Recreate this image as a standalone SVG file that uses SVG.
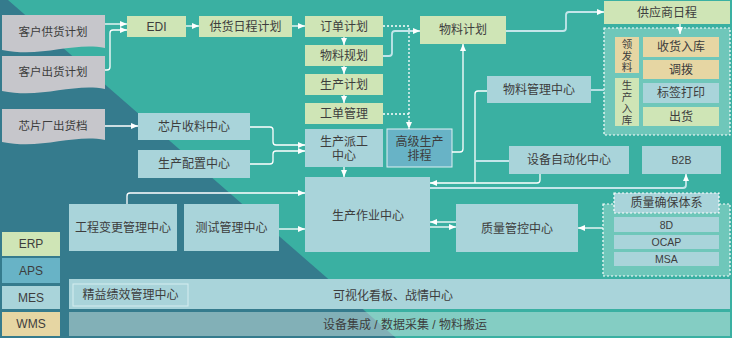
<svg xmlns="http://www.w3.org/2000/svg" width="732" height="338" viewBox="0 0 732 338">
<defs>
<style>
text{font-family:"Liberation Sans","Noto Sans CJK SC",sans-serif;font-size:12px;fill:#3d3d3d;text-anchor:middle;dominant-baseline:central}
.g{fill:#cfe5b6}
.b{fill:#a9d4da}
.t{fill:#e6d6a3}
.m{fill:#68b3c6}
.doc{fill:#c6c6cb}
.c path{fill:none;stroke:#fff;stroke-width:1.3}
.c path.lt{stroke:#c4e6ea;stroke-width:1.8}
.c path.d{stroke-dasharray:2 2}
.dash{fill:#6fc7ba;stroke:#fff;stroke-width:1.2;stroke-dasharray:2 2}
.sm{font-size:10.5px}
.v{font-size:10.5px}
.dt{font-size:11.5px}
</style>
<marker id="a" viewBox="0 0 7 6" refX="7" refY="3" markerWidth="7" markerHeight="6" markerUnits="userSpaceOnUse" orient="auto"><path d="M0,0 L7,3 L0,6 Z" fill="#fff"/></marker>
</defs>
<rect width="732" height="338" fill="#3ab0a2"/>
<polygon points="0,0 8,0 396,338 0,338" fill="#357b8d"/>

<g id="n-khgh"><path class="doc" d="M2,15 H105 V48 C72,42 42,58 2,50 Z"/><text class="dt" x="53" y="32">客户供货计划</text></g>
<g id="n-khch"><path class="doc" d="M2,56 H105 V89 C72,83 42,99 2,91 Z"/><text class="dt" x="53" y="72">客户出货计划</text></g>
<g id="n-xpcc"><path class="doc" d="M2,109 H105 V140 C72,134 42,150 2,142 Z"/><text class="dt" x="53" y="126">芯片厂出货档</text></g>

<g id="n-edi"><rect class="g" x="127" y="16" width="59" height="21"/><text x="156.5" y="26.5">EDI</text></g>
<g id="n-ghrc"><rect class="g" x="199" y="16" width="93" height="21"/><text x="245.5" y="26.5">供货日程计划</text></g>
<g id="n-ddjh"><rect class="g" x="305" y="16" width="78" height="21"/><text x="344" y="26.5">订单计划</text></g>
<g id="n-wlgh"><rect class="g" x="305" y="45" width="78" height="21"/><text x="344" y="55.5">物料规划</text></g>
<g id="n-scjh"><rect class="g" x="305" y="74" width="78" height="21"/><text x="344" y="84.5">生产计划</text></g>
<g id="n-gdgl"><rect class="g" x="305" y="103" width="78" height="21"/><text x="344" y="113.5">工单管理</text></g>
<g id="n-wljh"><rect class="g" x="420" y="16" width="86" height="28"/><text x="463" y="30">物料计划</text></g>
<g id="n-gysrc"><rect class="g" x="604" y="1" width="126" height="23"/><text x="667" y="13">供应商日程</text></g>

<g id="n-wms-box">
<rect class="dash" x="604" y="28" width="126" height="107"/>
<rect class="t" x="615" y="37" width="24" height="36"/>
<text class="v" x="627" y="43.5">领</text><text class="v" x="627" y="55.5">发</text><text class="v" x="627" y="67">料</text>
<rect class="g" x="615" y="78" width="24" height="48"/>
<text class="v" x="627" y="84.5">生</text><text class="v" x="627" y="96.5">产</text><text class="v" x="627" y="108">入</text><text class="v" x="627" y="119.5">库</text>
<rect class="t" x="643" y="37" width="76" height="20"/><text x="681" y="47">收货入库</text>
<rect class="t" x="643" y="60" width="76" height="19"/><text x="681" y="69.5">调拨</text>
<rect class="b" x="643" y="83" width="76" height="20"/><text x="681" y="93">标签打印</text>
<rect class="g" x="643" y="107" width="76" height="19"/><text x="681" y="116.5">出货</text>
</g>

<g id="n-wlglzx"><rect class="b" x="487" y="76" width="104" height="27"/><text x="539" y="89.5">物料管理中心</text></g>
<g id="n-xpsl"><rect class="b" x="138" y="113" width="112" height="27"/><text x="194" y="126.5">芯片收料中心</text></g>
<g id="n-scpz"><rect class="b" x="138" y="150" width="112" height="28"/><text x="194" y="164">生产配置中心</text></g>
<g id="n-scpg"><rect class="b" x="305" y="129" width="78" height="38"/><text x="344" y="142">生产派工</text><text x="344" y="156">中心</text></g>
<g id="n-gjpc"><rect class="m" x="387" y="129" width="65" height="38" stroke="#dff0f3" stroke-width="1"/><text x="419.5" y="142">高级生产</text><text x="419.5" y="156">排程</text></g>
<g id="n-scxzx"><rect class="b" x="305" y="177" width="125" height="75"/><text x="368" y="216">生产作业中心</text></g>
<g id="n-sbzdh"><rect class="b" x="509" y="146" width="120" height="28"/><text x="569" y="160">设备自动化中心</text></g>
<g id="n-b2b"><rect class="b" x="642" y="146" width="79" height="28"/><text class="sm" x="681.5" y="160">B2B</text></g>
<g id="n-zlgk"><rect class="b" x="456" y="204" width="122" height="48"/><text x="517" y="229">质量管控中心</text></g>
<g id="n-zlbz">
<rect class="dash" x="603" y="204" width="127" height="72"/>
<rect x="614" y="193" width="105" height="20" fill="#a9d4da" stroke="#fff" stroke-width="1.2" stroke-dasharray="2 2"/>
<text x="666.5" y="203">质量确保体系</text>
<rect class="b" x="614" y="217" width="105" height="15"/><text class="sm" x="666.5" y="224.5">8D</text>
<rect class="b" x="614" y="235" width="105" height="14"/><text class="sm" x="666.5" y="242">OCAP</text>
<rect class="b" x="614" y="252" width="105" height="14"/><text class="sm" x="666.5" y="259">MSA</text>
</g>
<g id="n-gcbg"><rect class="b" x="69" y="204" width="108" height="47"/><text x="123" y="228">工程变更管理中心</text></g>
<g id="n-csgl"><rect class="b" x="184" y="204" width="95" height="47"/><text x="231.5" y="228">测试管理中心</text></g>

<g id="n-erp"><rect class="g" x="2" y="232" width="58" height="24"/><text x="31" y="244">ERP</text></g>
<g id="n-aps"><rect class="m" x="2" y="258" width="58" height="25"/><text x="31" y="270.5">APS</text></g>
<g id="n-mes"><rect class="b" x="2" y="286" width="58" height="23"/><text x="31" y="297.5">MES</text></g>
<g id="n-wms"><rect class="t" x="2" y="312" width="58" height="24"/><text x="31" y="324">WMS</text></g>

<g id="n-kshkb"><rect class="b" x="69" y="279" width="661" height="30"/><rect x="73" y="284" width="115" height="22" fill="#a9d4da" stroke="#d6edf0" stroke-width="1"/><text x="130.5" y="295">精益绩效管理中心</text><text x="393" y="296">可视化看板、战情中心</text></g>
<g id="n-sbjc"><rect x="69" y="312" width="661" height="24" fill="#e0f2ec" fill-opacity="0.45"/><text x="405" y="324.5">设备集成 / 数据采集 / 物料搬运</text></g>

<g id="connectors" class="c">
<path d="M105,24 H127" marker-end="url(#a)"/>
<path d="M105,70 H107 Q110,70 110,67 V33 Q110,30 113,30 H127" marker-end="url(#a)"/>
<path d="M186,26 H199" marker-end="url(#a)"/>
<path d="M292,26 H305" marker-end="url(#a)"/>
<path d="M344,37 V45" marker-end="url(#a)"/>
<path d="M344,66 V74" marker-end="url(#a)"/>
<path d="M344,95 V103" marker-end="url(#a)"/>
<path class="lt" d="M383,56 H389 Q392,56 392,53 V34 Q392,31 395,31 H420" marker-end="url(#a)"/>
<path class="d" d="M383,26 H409 V129" marker-end="url(#a)"/>
<path class="d" d="M383,114 H409"/>
<path class="lt" d="M506,31 H563 Q566,31 566,28 V15 Q566,12 569,12 H604" marker-end="url(#a)"/>
<path d="M680,24 V34" marker-end="url(#a)"/>
<path d="M452,152 H460 Q463,152 463,149 V44" marker-end="url(#a)"/>
<path d="M487,91 H478 Q475,91 475,94 V183"/>
<path d="M540,174 V180 Q540,183 537,183 H430" marker-end="url(#a)"/>
<path class="lt" d="M509,161 H475"/>
<path class="lt" d="M430,188 H683 Q686,188 686,185 V174" marker-end="url(#a)"/>
<path class="lt" d="M591,90 H604"/>
<path d="M250,127 H270 Q273,127 273,130 V142 Q273,145 276,145 H305" marker-end="url(#a)"/>
<path d="M250,164 H270 Q273,164 273,161 V154 Q273,151 276,151 H305" marker-end="url(#a)"/>
<path d="M105,126 H138" marker-end="url(#a)"/>
<path d="M344,167 V177" marker-end="url(#a)"/>
<path d="M127,204 V196 Q127,193 130,193 H305" marker-end="url(#a)"/>
<path d="M279,229 H305" marker-end="url(#a)"/>
<path d="M456,222 H430" marker-end="url(#a)"/>
<path d="M430,227 H456" marker-end="url(#a)"/>
<path d="M603,228 H578" marker-end="url(#a)"/>
</g>
</svg>
